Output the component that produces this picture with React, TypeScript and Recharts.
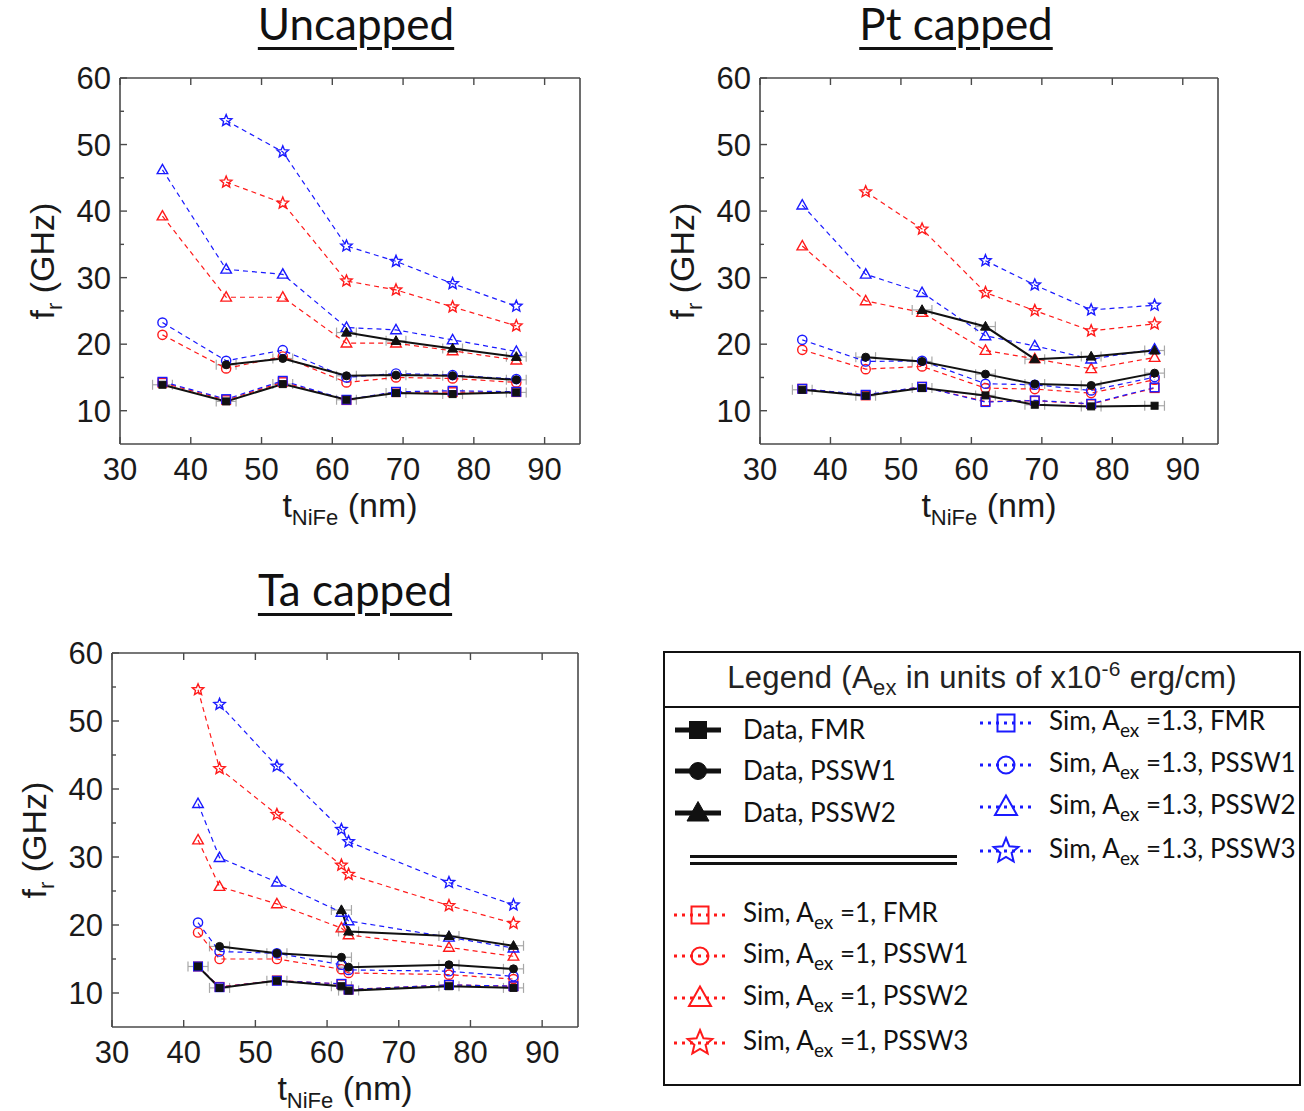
import React from 'react';
import { ComposedChart, Line, Scatter, XAxis, YAxis, ErrorBar } from 'recharts';

// ---- Uncapped (thickness in nm, frequency in GHz)
const UNCAPPED_X = [36, 45, 53, 62, 69, 77, 86];
const UNCAPPED_DATA_FMR = [13.9, 11.4, 14.0, 11.65, 12.65, 12.5, 12.75];
const UNCAPPED_DATA_PSSW1 = [null, 16.9, 17.85, 15.25, 15.35, 15.25, 14.65];
const UNCAPPED_DATA_PSSW2 = [null, null, null, 21.75, 20.5, 19.35, 18.1];
const UNCAPPED_SIM1_FMR = [14.2, 11.6, 14.3, 11.6, 12.8, 12.8, 12.8];
const UNCAPPED_SIM1_PSSW1 = [21.4, 16.35, 18.15, 14.25, 15.0, 14.85, 14.25];
const UNCAPPED_SIM1_PSSW2 = [39.25, 27.05, 27.05, 20.15, 20.15, 19.0, 17.6];
const UNCAPPED_SIM1_PSSW3 = [null, 44.35, 41.2, 29.5, 28.15, 25.6, 22.75];
const UNCAPPED_SIM13_FMR = [14.35, 11.75, 14.5, 11.65, 12.85, 13.0, 12.85];
const UNCAPPED_SIM13_PSSW1 = [23.25, 17.5, 19.1, 15.0, 15.6, 15.35, 14.75];
const UNCAPPED_SIM13_PSSW2 = [46.2, 31.25, 30.5, 22.5, 22.15, 20.65, 18.9];
const UNCAPPED_SIM13_PSSW3 = [null, 53.6, 48.9, 34.75, 32.45, 29.1, 25.7];

// ---- Pt capped
const PT_X = [36, 45, 53, 62, 69, 77, 86];
const PT_DATA_FMR = [13.15, 12.25, 13.4, 12.3, 10.9, 10.65, 10.75];
const PT_DATA_PSSW1 = [null, 18.05, 17.4, 15.5, 14.0, 13.8, 15.65];
const PT_DATA_PSSW2 = [null, null, 25.15, 22.65, 17.75, 18.15, 19.05];
const PT_SIM1_FMR = [13.3, 12.3, 13.6, 11.4, 11.5, 11.0, 13.4];
const PT_SIM1_PSSW1 = [19.15, 16.25, 16.65, 13.4, 13.25, 12.65, 14.65];
const PT_SIM1_PSSW2 = [34.75, 26.5, 24.75, 19.05, 17.8, 16.3, 18.0];
const PT_SIM1_PSSW3 = [null, 42.9, 37.3, 27.75, 25.05, 22.0, 23.05];
const PT_SIM13_FMR = [13.3, 12.4, 13.6, 11.3, 11.55, 11.05, 13.5];
const PT_SIM13_PSSW1 = [20.65, 17.4, 17.5, 14.05, 13.9, 13.05, 15.05];
const PT_SIM13_PSSW2 = [40.9, 30.5, 27.75, 21.25, 19.75, 17.75, 19.25];
const PT_SIM13_PSSW3 = [null, null, null, 32.55, 28.9, 25.15, 25.85];

// ---- Ta capped
const TA_X = [42, 45, 53, 62, 63, 77, 86];
const TA_DATA_FMR = [13.9, 10.75, 11.8, 11.0, 10.35, 11.0, 10.75];
const TA_DATA_PSSW1 = [null, 16.85, 15.85, 15.25, 13.8, 14.15, 13.55];
const TA_DATA_PSSW2 = [null, null, null, 22.2, 19.05, 18.4, 16.95];
const TA_SIM1_FMR = [13.9, 10.9, 11.85, 11.3, 10.5, 11.2, 11.0];
const TA_SIM1_PSSW1 = [18.9, 15.0, 15.0, 13.5, 12.95, 12.7, 12.05];
const TA_SIM1_PSSW2 = [32.5, 25.65, 23.1, 19.55, 18.55, 16.7, 15.4];
const TA_SIM1_PSSW3 = [54.6, 43.0, 36.25, 28.8, 27.45, 22.85, 20.25];
const TA_SIM13_FMR = [13.9, 10.85, 11.8, 11.35, 10.5, 11.2, 11.0];
const TA_SIM13_PSSW1 = [20.35, 16.1, 15.85, 14.15, 13.4, 13.2, 12.45];
const TA_SIM13_PSSW2 = [37.85, 29.9, 26.3, 21.85, 20.6, 18.2, 16.6];
const TA_SIM13_PSSW3 = [null, 52.45, 43.35, 34.05, 32.25, 26.25, 22.95];

const X_ERR = 1.4; // horizontal error on measured thickness
const X_TICKS = [30, 40, 50, 60, 70, 80, 90];
const Y_TICKS = [10, 15, 20, 25, 30, 35, 40, 45, 50, 55, 60];

const buildRows = (x: number[], s: Record<string, (number | null)[]>) =>
  x.map((v, i) => {
    const row: any = { x: v, xErr: X_ERR };
    Object.keys(s).forEach((k) => (row[k] = s[k][i]));
    return row;
  });

const UNCAPPED_ROWS = buildRows(UNCAPPED_X, {
  dFMR: UNCAPPED_DATA_FMR, dP1: UNCAPPED_DATA_PSSW1, dP2: UNCAPPED_DATA_PSSW2,
  aFMR: UNCAPPED_SIM1_FMR, aP1: UNCAPPED_SIM1_PSSW1, aP2: UNCAPPED_SIM1_PSSW2, aP3: UNCAPPED_SIM1_PSSW3,
  bFMR: UNCAPPED_SIM13_FMR, bP1: UNCAPPED_SIM13_PSSW1, bP2: UNCAPPED_SIM13_PSSW2, bP3: UNCAPPED_SIM13_PSSW3,
});
const PT_ROWS = buildRows(PT_X, {
  dFMR: PT_DATA_FMR, dP1: PT_DATA_PSSW1, dP2: PT_DATA_PSSW2,
  aFMR: PT_SIM1_FMR, aP1: PT_SIM1_PSSW1, aP2: PT_SIM1_PSSW2, aP3: PT_SIM1_PSSW3,
  bFMR: PT_SIM13_FMR, bP1: PT_SIM13_PSSW1, bP2: PT_SIM13_PSSW2, bP3: PT_SIM13_PSSW3,
});
const TA_ROWS = buildRows(TA_X, {
  dFMR: TA_DATA_FMR, dP1: TA_DATA_PSSW1, dP2: TA_DATA_PSSW2,
  aFMR: TA_SIM1_FMR, aP1: TA_SIM1_PSSW1, aP2: TA_SIM1_PSSW2, aP3: TA_SIM1_PSSW3,
  bFMR: TA_SIM13_FMR, bP1: TA_SIM13_PSSW1, bP2: TA_SIM13_PSSW2, bP3: TA_SIM13_PSSW3,
});

const RED = '#ff1a1a';
const BLUE = '#1a1aff';
const AXIS = '#4a4a4a';
const ARIAL = '"Liberation Sans", Arial, sans-serif';
const CALIBRI = 'Lato, "Open Sans", sans-serif';

type Shape = 'square' | 'circle' | 'triangle' | 'star';

function starPoints(cx: number, cy: number, r: number) {
  const pts: string[] = [];
  for (let i = 0; i < 10; i++) {
    const rr = i % 2 === 0 ? r : r * 0.45;
    const a = -Math.PI / 2 + (i * Math.PI) / 5;
    pts.push(`${cx + rr * Math.cos(a)},${cy + rr * Math.sin(a)}`);
  }
  return pts.join(' ');
}

function Marker({ shape, cx, cy, r, color, filled, sw = 1.5 }: any) {
  const fill = filled ? color : 'none';
  if (shape === 'square')
    return <rect x={cx - r} y={cy - r} width={2 * r} height={2 * r} fill={fill} stroke={color} strokeWidth={sw} />;
  if (shape === 'circle') return <circle cx={cx} cy={cy} r={r} fill={fill} stroke={color} strokeWidth={sw} />;
  if (shape === 'triangle')
    return (
      <polygon
        points={`${cx},${cy - r * 1.15} ${cx - r * 1.1},${cy + r * 0.8} ${cx + r * 1.1},${cy + r * 0.8}`}
        fill={fill}
        stroke={color}
        strokeWidth={sw}
      />
    );
  return <polygon points={starPoints(cx, cy, r)} fill={fill} stroke={color} strokeWidth={sw} />;
}

const dotFor = (shape: Shape, color: string, filled: boolean, r: number) => (p: any) => {
  if (p.cx == null || p.cy == null || p.value == null) return <g key={`e-${p.index}`} />;
  return (
    <g key={`d-${p.index}`}>
      <Marker shape={shape} cx={p.cx} cy={p.cy} r={r} color={color} filled={filled} sw={filled ? 1 : 1.4} />
    </g>
  );
};

const SIM_SERIES: { key: string; color: string; shape: Shape; r: number }[] = [
  { key: 'aFMR', color: RED, shape: 'square', r: 4.3 },
  { key: 'aP1', color: RED, shape: 'circle', r: 4.6 },
  { key: 'aP2', color: RED, shape: 'triangle', r: 4.8 },
  { key: 'aP3', color: RED, shape: 'star', r: 6 },
  { key: 'bFMR', color: BLUE, shape: 'square', r: 4.3 },
  { key: 'bP1', color: BLUE, shape: 'circle', r: 4.6 },
  { key: 'bP2', color: BLUE, shape: 'triangle', r: 4.8 },
  { key: 'bP3', color: BLUE, shape: 'star', r: 6 },
];
const DATA_SERIES: { key: string; shape: Shape; r: number }[] = [
  { key: 'dFMR', shape: 'square', r: 3.5 },
  { key: 'dP1', shape: 'circle', r: 4 },
  { key: 'dP2', shape: 'triangle', r: 4.5 },
];

const LeftTick = (p: any) => {
  const { x, y, payload } = p;
  const major = payload.value % 10 === 0;
  return (
    <g>
      <line x1={x} x2={x + (major ? 7 : 4)} y1={y} y2={y} stroke={AXIS} strokeWidth={1.4} />
      {major && (
        <text x={x - 9} y={y} dy="0.36em" textAnchor="end" fontSize={31} fill="#1a1a1a" fontFamily={ARIAL}>
          {payload.value}
        </text>
      )}
    </g>
  );
};
const RightTick = (p: any) => {
  const major = p.payload.value % 10 === 0;
  return <line x1={p.x} x2={p.x - (major ? 7 : 4)} y1={p.y} y2={p.y} stroke={AXIS} strokeWidth={1.4} />;
};
const BottomTick = (p: any) => {
  const { x, y, payload } = p;
  return (
    <g>
      <line x1={x} x2={x} y1={y} y2={y - 7} stroke={AXIS} strokeWidth={1.4} />
      <text x={x} y={y + 25} dy="0.36em" textAnchor="middle" fontSize={31} fill="#1a1a1a" fontFamily={ARIAL}>
        {payload.value}
      </text>
    </g>
  );
};
const TopTick = (p: any) => <line x1={p.x} x2={p.x} y1={p.y} y2={p.y + 7} stroke={AXIS} strokeWidth={1.4} />;

const YTitle = (p: any) => {
  const vb = p.viewBox;
  const cx = vb.x + 22;
  const cy = vb.y + vb.height / 2;
  return (
    <text
      x={cx}
      y={cy}
      dy="0.36em"
      transform={`rotate(-90 ${cx} ${cy})`}
      textAnchor="middle"
      fontSize={34}
      fill="#1a1a1a"
      fontFamily={ARIAL}
    >
      f<tspan dy={8} fontSize={22}>r</tspan>
      <tspan dy={-8}> (GHz)</tspan>
    </text>
  );
};
const XTitle = (p: any) => {
  const vb = p.viewBox;
  return (
    <text x={vb.x + vb.width / 2} y={vb.y + 73} textAnchor="middle" fontSize={34} fill="#1a1a1a" fontFamily={ARIAL}>
      t<tspan dy={8} fontSize={22}>NiFe</tspan>
      <tspan dy={-8}> (nm)</tspan>
    </text>
  );
};

const NoShape = () => <g />;

function Panel({ rows, width, height }: { rows: any[]; width: number; height: number }) {
  return (
    <ComposedChart width={width} height={height} data={rows} margin={{ top: 19, right: 9, left: 0, bottom: 0 }}>
      <XAxis
        xAxisId="m"
        dataKey="x"
        type="number"
        domain={[30, 95]}
        ticks={X_TICKS}
        interval={0}
        height={100}
        tickSize={0}
        tickMargin={0}
        tickLine={false}
        tick={<BottomTick />}
        axisLine={{ stroke: AXIS, strokeWidth: 1.6 }}
        label={<XTitle />}
      />
      <XAxis
        xAxisId="t"
        orientation="top"
        dataKey="x"
        type="number"
        domain={[30, 95]}
        ticks={X_TICKS}
        interval={0}
        height={1}
        tickSize={0}
        tickMargin={0}
        tickLine={false}
        tick={<TopTick />}
        axisLine={{ stroke: AXIS, strokeWidth: 1.6 }}
      />
      <YAxis
        yAxisId="m"
        type="number"
        domain={[5, 60]}
        ticks={Y_TICKS}
        interval={0}
        width={100}
        tickSize={0}
        tickMargin={0}
        tickLine={false}
        tick={<LeftTick />}
        axisLine={{ stroke: AXIS, strokeWidth: 1.6 }}
        label={<YTitle />}
      />
      <YAxis
        yAxisId="r"
        orientation="right"
        type="number"
        domain={[5, 60]}
        ticks={Y_TICKS}
        interval={0}
        width={1}
        tickSize={0}
        tickMargin={0}
        tickLine={false}
        tick={<RightTick />}
        axisLine={{ stroke: AXIS, strokeWidth: 1.6 }}
      />
      {DATA_SERIES.map((s) => (
        <Scatter
          key={'err-' + s.key}
          xAxisId="m"
          yAxisId="m"
          data={rows.filter((r) => r[s.key] != null)}
          dataKey={s.key}
          shape={<NoShape />}
          isAnimationActive={false}
        >
          <ErrorBar dataKey="xErr" direction="x" width={5} stroke="#a8a8a8" strokeWidth={1.2} />
        </Scatter>
      ))}
      {SIM_SERIES.map((s) => (
        <Line
          key={s.key}
          xAxisId="m"
          yAxisId="m"
          dataKey={s.key}
          stroke={s.color}
          strokeWidth={1.2}
          strokeDasharray="5 4"
          dot={dotFor(s.shape, s.color, false, s.r)}
          activeDot={false}
          isAnimationActive={false}
        />
      ))}
      {DATA_SERIES.map((s) => (
        <Line
          key={s.key}
          xAxisId="m"
          yAxisId="m"
          dataKey={s.key}
          stroke="#111"
          strokeWidth={2}
          dot={dotFor(s.shape, '#111', true, s.r)}
          activeDot={false}
          isAnimationActive={false}
        />
      ))}
    </ComposedChart>
  );
}

const titleStyle = (left: number, top: number): React.CSSProperties => ({
  position: 'absolute',
  left,
  top,
  width: 300,
  textAlign: 'center',
  fontFamily: CALIBRI,
  fontSize: 44,
  lineHeight: '46px',
  color: '#111',
  textDecoration: 'underline',
  textDecorationThickness: 2.5,
  textUnderlineOffset: 7,
});

function LegendIcon({ shape, color, filled, left, top }: any) {
  return (
    <svg width={60} height={40} style={{ position: 'absolute', left, top: top - 20 }}>
      {filled ? (
        <line x1={2} x2={48} y1={20} y2={20} stroke={color} strokeWidth={5} />
      ) : (
        <line x1={4} x2={58} y1={20} y2={20} stroke={color} strokeWidth={3} strokeDasharray="3 5" />
      )}
      <Marker
        shape={shape}
        cx={filled ? 25 : 30}
        cy={20}
        r={shape === 'star' ? 13 : shape === 'triangle' ? 10 : 8.5}
        color={color}
        filled={filled}
        sw={filled ? 1 : 2}
      />
    </svg>
  );
}

const itemText: React.CSSProperties = {
  position: 'absolute',
  fontFamily: CALIBRI,
  fontSize: 26,
  lineHeight: '30px',
  color: '#111',
  whiteSpace: 'nowrap',
};
const sub: React.CSSProperties = { fontSize: 19, position: 'relative', top: 7 };

function SimLabel({ a, mode }: { a: string; mode: string }) {
  return (
    <>
      Sim, A<span style={sub}>ex</span> ={a}, {mode}
    </>
  );
}

function LegendBox() {
  const dataRows: [string, Shape, number][] = [
    ['Data, FMR', 'square', 77],
    ['Data, PSSW1', 'circle', 118],
    ['Data, PSSW2', 'triangle', 160],
  ];
  const modes: [string, Shape][] = [
    ['FMR', 'square'],
    ['PSSW1', 'circle'],
    ['PSSW2', 'triangle'],
    ['PSSW3', 'star'],
  ];
  const redY = [262, 303, 345, 390];
  const blueY = [70, 112, 154, 198];
  return (
    <div
      style={{
        position: 'absolute',
        left: 663,
        top: 651,
        width: 638,
        height: 435,
        border: '2px solid #111',
        boxSizing: 'border-box',
      }}
    >
      <div
        style={{
          position: 'absolute',
          left: 0,
          top: 0,
          width: '100%',
          height: 53,
          borderBottom: '2px solid #111',
          textAlign: 'center',
          fontFamily: ARIAL,
          fontSize: 31,
          lineHeight: '50px',
          color: '#222',
          whiteSpace: 'nowrap',
          letterSpacing: 0.3,
        }}
      >
        Legend (A<span style={{ fontSize: 22, position: 'relative', top: 7 }}>ex</span> in units of x10
        <span style={{ fontSize: 21, position: 'relative', top: -12 }}>-6</span> erg/cm)
      </div>
      {dataRows.map(([t, shape, y]) => (
        <React.Fragment key={t}>
          <LegendIcon shape={shape} color="#111" filled left={8} top={y} />
          <div style={{ ...itemText, left: 78, top: y - 16 }}>{t}</div>
        </React.Fragment>
      ))}
      <div style={{ position: 'absolute', left: 25, top: 202, width: 267, height: 2.5, background: '#111' }} />
      <div style={{ position: 'absolute', left: 25, top: 209, width: 267, height: 2.5, background: '#111' }} />
      {modes.map(([m, shape], i) => (
        <React.Fragment key={'r' + m}>
          <LegendIcon shape={shape} color={RED} left={5} top={redY[i]} />
          <div style={{ ...itemText, left: 78, top: redY[i] - 18 }}>
            <SimLabel a="1" mode={m} />
          </div>
        </React.Fragment>
      ))}
      {modes.map(([m, shape], i) => (
        <React.Fragment key={'b' + m}>
          <LegendIcon shape={shape} color={BLUE} left={311} top={blueY[i]} />
          <div style={{ ...itemText, left: 384, top: blueY[i] - 18 }}>
            <SimLabel a="1.3" mode={m} />
          </div>
        </React.Fragment>
      ))}
    </div>
  );
}

export default function App() {
  return (
    <div style={{ position: 'absolute', left: 0, top: 0, width: 1304, height: 1111, background: '#fff', overflow: 'hidden' }}>
      <div style={titleStyle(206, 0)}>Uncapped</div>
      <div style={titleStyle(806, 0)}>Pt capped</div>
      <div style={titleStyle(205, 566)}>Ta capped</div>

      <div style={{ position: 'absolute', left: 20, top: 58 }}>
        <Panel rows={UNCAPPED_ROWS} width={570} height={486} />
      </div>
      <div style={{ position: 'absolute', left: 660, top: 58 }}>
        <Panel rows={PT_ROWS} width={568} height={486} />
      </div>
      <div style={{ position: 'absolute', left: 12, top: 633 }}>
        <Panel rows={TA_ROWS} width={576} height={494} />
      </div>

      <LegendBox />
    </div>
  );
}
